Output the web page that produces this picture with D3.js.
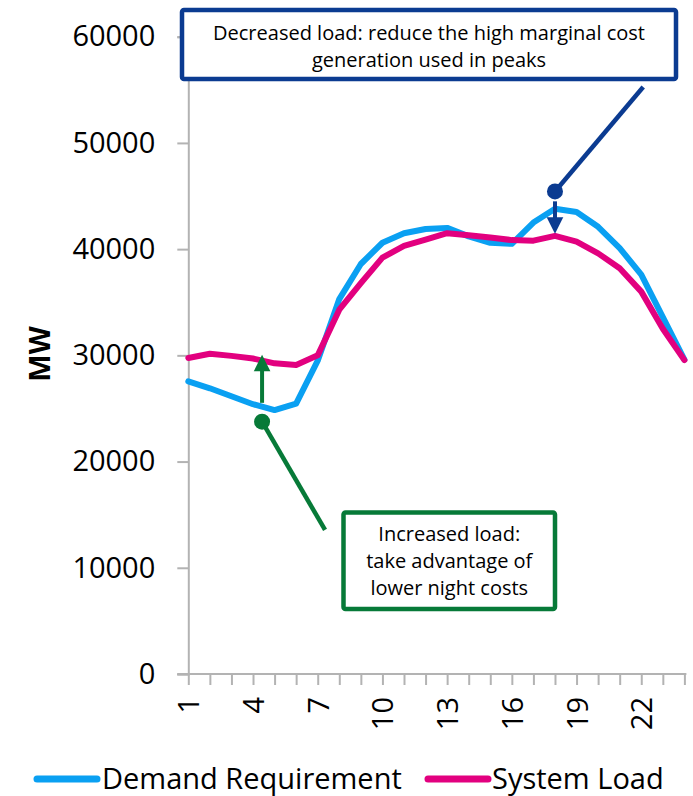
<!DOCTYPE html>
<html>
<head>
<meta charset="utf-8">
<script src="https://cdn.jsdelivr.net/npm/d3@7"></script>
<style>
  html, body { margin: 0; padding: 0; background: #fff; }
  svg { display: block; }
  text { font-family: "Open Sans", "Noto Sans", sans-serif; fill: #000; }
</style>
</head>
<body>
<svg id="chart" width="693" height="796"></svg>
<script>
// ---- data ----
const hours = d3.range(1, 25);
const demandRequirement = [27550, 26900, 26150, 25400, 24850, 25450, 29500, 35300, 38600, 40600, 41500, 41900,
                           42000, 41200, 40600, 40500, 42500, 43800, 43500, 42100, 40100, 37600, 33600, 29600];
const systemLoad = [29750, 30150, 29950, 29700, 29250, 29100, 30000, 34300, 36800, 39200, 40300, 40900,
                    41500, 41300, 41100, 40850, 40800, 41250, 40700, 39600, 38200, 36000, 32500, 29550];
const yTicks = [0, 10000, 20000, 30000, 40000, 50000, 60000];
const xTickLabels = [1, 4, 7, 10, 13, 16, 19, 22];
const seriesNames = ["Demand Requirement", "System Load"];
const seriesColors = ["#0aa0f2", "#e2007f"];

// annotations in data coordinates (hour, MW)
const peakNote = { text: ["Decreased load: reduce the high marginal cost", "generation used in peaks"],
                   dot: [18, 45430], lead: [22.09, 55260], arrowFrom: [18, 44500], arrowTo: [18, 41440] };
const nightNote = { text: ["Increased load:", "take advantage of", "lower night costs"],
                    dot: [4.42, 23760], lead: [7.34, 13560], arrowFrom: [4.42, 25530], arrowTo: [4.42, 30050] };

// ---- layout ----
const svg = d3.select("#chart");
const mLeft = 188.3, mRight = 684.4, mTop = 36.7, mBottom = 674;
const x = d3.scalePoint().domain(hours).range([mLeft, mRight]);
const xLin = d3.scaleLinear().domain([1, 24]).range([mLeft, mRight]);
const y = d3.scaleLinear().domain([0, 60000]).range([mBottom, mTop]);
const axisColor = "#b3b3b3";

// y axis
const gy = svg.append("g").attr("transform", `translate(${mLeft},0)`)
  .call(d3.axisLeft(y).tickValues(yTicks).tickSize(11).tickPadding(22).tickFormat(d3.format("d")));
gy.select(".domain").attr("stroke", axisColor).attr("stroke-width", 2);
gy.selectAll(".tick line").attr("stroke", axisColor).attr("stroke-width", 2);
gy.selectAll(".tick text").style("font-family", "'Open Sans'").style("font-size", "29px").attr("fill", "#000");

// x axis
const gx = svg.append("g").attr("transform", `translate(0,${mBottom})`)
  .call(d3.axisBottom(x).tickSize(11).tickSizeOuter(0)
    .tickFormat(d => xTickLabels.includes(d) ? String(d) : ""));
gx.select(".domain").attr("stroke", axisColor).attr("stroke-width", 2)
  .attr("d", `M${mLeft - 11},0H${mRight + 2}`);
gx.selectAll(".tick line").attr("stroke", axisColor).attr("stroke-width", 2);
gx.selectAll(".tick text")
  .style("font-family", "'Open Sans'").style("font-size", "29px").attr("fill", "#000")
  .attr("transform", "rotate(-90)").attr("text-anchor", "end")
  .attr("x", -23).attr("y", 0).attr("dy", "0.36em");

// MW label
svg.append("text").attr("transform", "translate(40,354) rotate(-90)")
  .attr("text-anchor", "middle").attr("dy", "0.36em")
  .style("font-size", "29px").style("font-weight", "bold").text("MW");

// lines
const line = d3.line().x((d, i) => x(hours[i])).y(d => y(d));
[demandRequirement, systemLoad].forEach((s, k) => {
  svg.append("path").datum(s).attr("d", line).attr("fill", "none")
    .attr("stroke", seriesColors[k]).attr("stroke-width", 6)
    .attr("stroke-linejoin", "round").attr("stroke-linecap", "round");
});

// annotations
function drawNote(note, color, box, lineH, textCy) {
  svg.append("line")
    .attr("x1", xLin(note.lead[0])).attr("y1", y(note.lead[1]))
    .attr("x2", xLin(note.dot[0])).attr("y2", y(note.dot[1]))
    .attr("stroke", color).attr("stroke-width", 4.5);
  svg.append("circle").attr("cx", xLin(note.dot[0])).attr("cy", y(note.dot[1])).attr("r", 8).attr("fill", color);
  const ax = xLin(note.arrowFrom[0]);
  const y0 = y(note.arrowFrom[1]), y1 = y(note.arrowTo[1]);
  const dir = Math.sign(y1 - y0);
  const headLen = 16.5, headW = 8.3;
  svg.append("line").attr("x1", ax).attr("x2", ax).attr("y1", y0).attr("y2", y1 - dir * headLen + dir)
    .attr("stroke", color).attr("stroke-width", 4);
  svg.append("path")
    .attr("d", `M${ax},${y1}L${ax - headW},${y1 - dir * headLen}L${ax + headW},${y1 - dir * headLen}Z`)
    .attr("fill", color);
  svg.append("rect").attr("x", box[0]).attr("y", box[1]).attr("width", box[2]).attr("height", box[3])
    .attr("rx", 2).attr("fill", "#fff").attr("stroke", color).attr("stroke-width", 4.5);
  const cx = box[0] + box[2] / 2;
  note.text.forEach((t, i) => {
    svg.append("text").attr("x", cx).attr("y", textCy + (i - (note.text.length - 1) / 2) * lineH)
      .attr("dy", "0.35em").attr("text-anchor", "middle").style("font-size", "20px").text(t);
  });
}
drawNote(peakNote, "#0b3b91", [182, 10, 494, 69], 27.5, 46.3);
drawNote(nightNote, "#077a38", [343.5, 512.5, 211.5, 96.5], 27.3, 561);

// legend
const legendItems = [
  { name: seriesNames[0], color: seriesColors[0], x1: 37, x2: 97, tx: 102 },
  { name: seriesNames[1], color: seriesColors[1], x1: 428, x2: 488, tx: 492 }
];
legendItems.forEach(it => {
  svg.append("line").attr("x1", it.x1).attr("x2", it.x2).attr("y1", 779).attr("y2", 779)
    .attr("stroke", it.color).attr("stroke-width", 7).attr("stroke-linecap", "round");
  svg.append("text").attr("x", it.tx).attr("y", 779).attr("dy", "0.35em")
    .style("font-size", "29px").text(it.name);
});
</script>
</body>
</html>
